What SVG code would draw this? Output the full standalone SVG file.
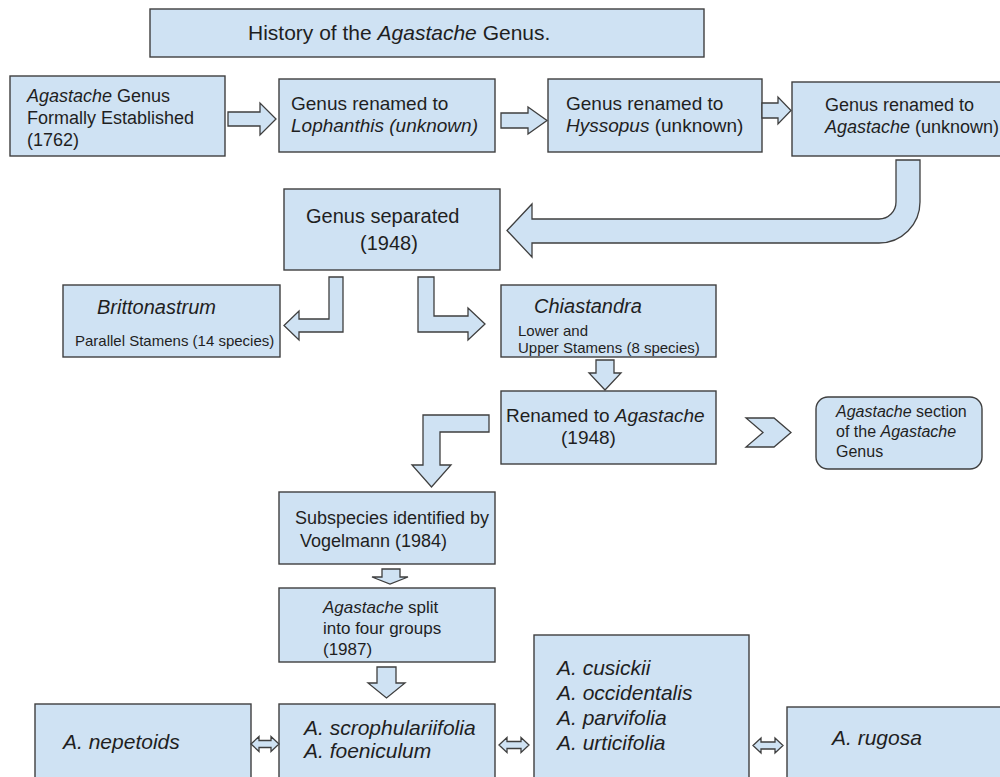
<svg xmlns="http://www.w3.org/2000/svg" width="1000" height="777" viewBox="0 0 1000 777">
<style>
.box{fill:#cfe2f3;stroke:#3f3f3f;stroke-width:1.4}
.arr{fill:#cfe2f3;stroke:#3f3f3f;stroke-width:1.3;stroke-linejoin:miter}
text{font-family:"Liberation Sans",Arial,sans-serif;fill:#1f1f1f}
.f19{font-size:19px}
.f18{font-size:18px}
.f20{font-size:20px}
.f21{font-size:21px}
.f15{font-size:15px}
.f16{font-size:16px}
.f17{font-size:17px}
.i{font-style:italic}
</style>
<rect width="1000" height="777" fill="#ffffff"/>

<g id="title">
<rect class="box" x="150" y="9" width="554" height="48"/>
<text class="f21" x="248" y="40">History of the <tspan class="i">Agastache</tspan> Genus.</text>
</g>

<g id="n-established">
<rect class="box" x="10" y="76" width="215" height="80"/>
<text class="f18" x="27" y="102"><tspan class="i">Agastache</tspan> Genus</text>
<text class="f18" x="27" y="124">Formally Established</text>
<text class="f18" x="27" y="146">(1762)</text>
</g>

<g id="n-lophanthis">
<rect class="box" x="279" y="79" width="216" height="73"/>
<text class="f19" x="291" y="110">Genus renamed to</text>
<text class="f19 i" x="291" y="132">Lophanthis (unknown)</text>
</g>

<g id="n-hyssopus">
<rect class="box" x="548" y="79" width="214" height="73"/>
<text class="f19" x="566" y="110">Genus renamed to</text>
<text class="f19" x="566" y="132"><tspan class="i">Hyssopus</tspan> (unknown)</text>
</g>

<g id="n-agastache-renamed">
<rect class="box" x="792" y="82" width="220" height="74"/>
<text class="f18" x="825" y="111">Genus renamed to</text>
<text class="f18" x="825" y="133"><tspan class="i">Agastache</tspan> (unknown)</text>
</g>

<g id="n-separated">
<rect class="box" x="284" y="189" width="216" height="81"/>
<text class="f20" x="306" y="223">Genus separated</text>
<text class="f20" x="360" y="250">(1948)</text>
</g>

<g id="n-brittonastrum">
<rect class="box" x="63" y="285" width="217" height="72"/>
<text class="f20 i" x="97" y="314">Brittonastrum</text>
<text class="f15" x="75" y="346">Parallel Stamens (14 species)</text>
</g>

<g id="n-chiastandra">
<rect class="box" x="501" y="285" width="215" height="72"/>
<text class="f20 i" x="534" y="313">Chiastandra</text>
<text class="f15" x="518" y="336">Lower and</text>
<text class="f15" x="518" y="353">Upper Stamens (8 species)</text>
</g>

<g id="n-renamed-1948">
<rect class="box" x="501" y="391" width="215" height="73"/>
<text class="f19" x="506" y="422">Renamed to <tspan class="i">Agastache</tspan></text>
<text class="f19" x="561" y="444">(1948)</text>
</g>

<g id="n-section">
<rect class="box" x="816" y="397" width="166" height="72" rx="12" ry="12"/>
<text class="f16" x="836" y="417"><tspan class="i">Agastache</tspan> section</text>
<text class="f16" x="836" y="437">of the <tspan class="i">Agastache</tspan></text>
<text class="f16" x="836" y="457">Genus</text>
</g>

<g id="n-subspecies">
<rect class="box" x="279" y="492" width="216" height="72"/>
<text class="f18" x="295" y="524">Subspecies identified by</text>
<text class="f18" x="300" y="547">Vogelmann (1984)</text>
</g>

<g id="n-split">
<rect class="box" x="279" y="588" width="216" height="74"/>
<text class="f17" x="323" y="613"><tspan class="i">Agastache</tspan> split</text>
<text class="f17" x="323" y="634">into four groups</text>
<text class="f17" x="323" y="655">(1987)</text>
</g>

<g id="n-nepetoids">
<rect class="box" x="35" y="704" width="216" height="90"/>
<text class="f21 i" x="63" y="749">A. nepetoids</text>
</g>

<g id="n-scrophulariifolia">
<rect class="box" x="279" y="704" width="216" height="90"/>
<text class="f21 i" x="304" y="735">A. scrophulariifolia</text>
<text class="f21 i" x="304" y="758">A. foeniculum</text>
</g>

<g id="n-cusickii">
<rect class="box" x="534" y="635" width="215" height="160"/>
<text class="f21 i" x="557" y="675">A. cusickii</text>
<text class="f21 i" x="557" y="700">A. occidentalis</text>
<text class="f21 i" x="557" y="725">A. parvifolia</text>
<text class="f21 i" x="557" y="750">A. urticifolia</text>
</g>

<g id="n-rugosa">
<rect class="box" x="787" y="707" width="225" height="90"/>
<text class="f21 i" x="832" y="745">A. rugosa</text>
</g>

<g id="connectors">
<path class="arr" d="M228 112 L260 112 L260 103 L276 119 L260 135 L260 126 L228 126 Z"/>
<path class="arr" d="M501 113 L528 113 L528 107 L547 120.5 L528 134 L528 128 L501 128 Z"/>
<path class="arr" d="M762 103 L778 103 L778 97 L791 110.5 L778 124 L778 118 L762 118 Z"/>
<path class="arr" d="M896 160 L920 160 L920 202 A41 41 0 0 1 879 243 L532 243 L532 257 L507 230.5 L532 204 L532 219 L879 219 A17 17 0 0 0 896 202 Z"/>
<path class="arr" d="M329 277 L343 277 L343 332 L299 332 L299 340 L284 325.5 L299 311 L299 319 L329 319 Z"/>
<path class="arr" d="M418 277 L434 277 L434 316 L468 316 L468 308 L485 324 L468 340 L468 332 L418 332 Z"/>
<path class="arr" d="M596 360 L614 360 L614 373 L621 373 L605 390 L589 373 L596 373 Z"/>
<path class="arr" d="M746 418 L774 418 L791 432.5 L774 447 L746 447 L763 432.5 Z"/>
<path class="arr" d="M489 415 L489 432 L440 432 L440 465 L451 465 L431.5 487 L412 465 L423 465 L423 415 Z"/>
<path class="arr" d="M382 569 L400 569 L400 577 L408 577 L390 584 L372 577 L382 577 Z"/>
<path class="arr" d="M377 667 L396 667 L396 683 L405 683 L386.5 698 L368 683 L377 683 Z"/>
<path class="arr" d="M251 744 L259 736.5 L259 740.5 L271 740.5 L271 736.5 L279 744 L271 751.5 L271 747.5 L259 747.5 L259 751.5 Z"/>
<path class="arr" d="M499 745 L507 737.5 L507 741.5 L521 741.5 L521 737.5 L529 745 L521 752.5 L521 748.5 L507 748.5 L507 752.5 Z"/>
<path class="arr" d="M753 745.5 L761 738 L761 742 L775 742 L775 738 L783 745.5 L775 753 L775 749 L761 749 L761 753 Z"/>
</g>
</svg>
